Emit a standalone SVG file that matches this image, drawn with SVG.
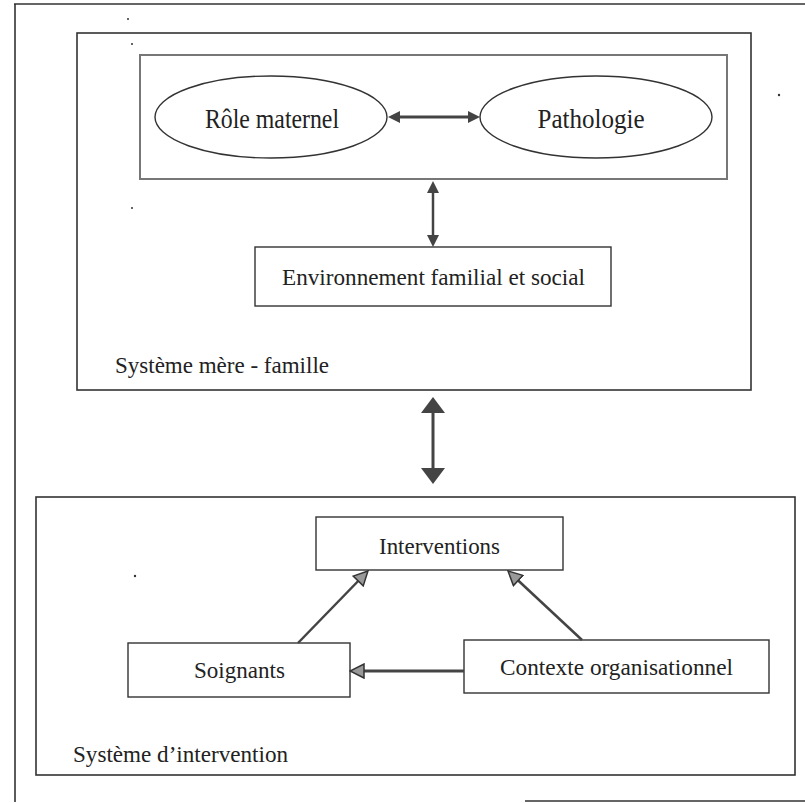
<svg xmlns="http://www.w3.org/2000/svg" width="805" height="803" viewBox="0 0 805 803">
  <style>
    .frame { fill: none; stroke: #333; stroke-width: 1.6; }
    .inner { fill: none; stroke: #777; stroke-width: 2; }
    .node { fill: #fff; stroke: #333; stroke-width: 1.4; }
    .lbl { font-family: "Liberation Serif", "Times New Roman", serif; font-size: 24px; fill: #222; }
    .big { font-size: 27px; }
    .c { text-anchor: middle; }
    .link { fill: none; stroke: #444; }
    .speck { fill: #333; }
  </style>
  <defs>
    <!-- small solid head (top part) -->
    <marker id="headS" viewBox="0 0 12 12" refX="0" refY="6" markerWidth="12" markerHeight="12" markerUnits="userSpaceOnUse" orient="auto-start-reverse">
      <path d="M0,0 L12,6 L0,12 z" fill="#444"/>
    </marker>
    <!-- large solid head (link between the two systems) -->
    <marker id="headL" viewBox="0 0 16 24" refX="0" refY="12" markerWidth="16" markerHeight="24" markerUnits="userSpaceOnUse" orient="auto-start-reverse">
      <path d="M0,0 L16,12 L0,24 z" fill="#444"/>
    </marker>
    <!-- outlined head (intervention system) -->
    <marker id="headO" viewBox="-1 -1 16 16" refX="0" refY="7" markerWidth="16" markerHeight="16" markerUnits="userSpaceOnUse" orient="auto">
      <path d="M0,0 L14,7 L0,14 z" fill="#999" stroke="#333" stroke-width="1.5"/>
    </marker>
  </defs>

  <!-- page frame -->
  <g id="page">
    <path class="frame" d="M14,4 H805 M15,4 V802 M525,801 H805"/>
  </g>

  <!-- mother-family system -->
  <g id="systeme-mere-famille">
    <rect class="frame" x="77" y="33" width="674" height="357"/>
    <text class="lbl" x="115" y="373" textLength="214" lengthAdjust="spacingAndGlyphs">Système mère - famille</text>
  </g>
  <g id="dyade">
    <rect class="inner" x="140" y="55" width="587" height="124"/>
  </g>
  <g id="role-maternel">
    <ellipse class="node" cx="271" cy="117" rx="116" ry="41"/>
    <text class="lbl big c" x="272" y="128" textLength="134" lengthAdjust="spacingAndGlyphs">Rôle maternel</text>
  </g>
  <g id="pathologie">
    <ellipse class="node" cx="596" cy="117" rx="116" ry="41"/>
    <text class="lbl big c" x="591" y="128" textLength="107" lengthAdjust="spacingAndGlyphs">Pathologie</text>
  </g>
  <g id="environnement">
    <rect class="node" x="255" y="247" width="356" height="59"/>
    <text class="lbl c" x="433.5" y="285" textLength="303" lengthAdjust="spacingAndGlyphs">Environnement familial et social</text>
  </g>

  <!-- intervention system -->
  <g id="systeme-intervention">
    <rect class="frame" x="36" y="497" width="759" height="278"/>
    <text class="lbl" x="73" y="762" textLength="215" lengthAdjust="spacingAndGlyphs">Système d’intervention</text>
  </g>
  <g id="interventions">
    <rect class="node" x="316" y="517" width="247" height="53"/>
    <text class="lbl c" x="439.5" y="554" textLength="121" lengthAdjust="spacingAndGlyphs">Interventions</text>
  </g>
  <g id="soignants">
    <rect class="node" x="128" y="643" width="222" height="54"/>
    <text class="lbl c" x="239.5" y="678" textLength="91" lengthAdjust="spacingAndGlyphs">Soignants</text>
  </g>
  <g id="contexte">
    <rect class="node" x="464" y="640" width="305" height="53"/>
    <text class="lbl c" x="616.5" y="675" textLength="233" lengthAdjust="spacingAndGlyphs">Contexte organisationnel</text>
  </g>

  <!-- connectors -->
  <g id="connectors">
    <line class="link" x1="400" y1="117" x2="468" y2="117" stroke-width="3" marker-start="url(#headS)" marker-end="url(#headS)"/>
    <line class="link" x1="433" y1="193" x2="433" y2="235" stroke="#222" stroke-width="2.5" marker-start="url(#headS)" marker-end="url(#headS)"/>
    <line class="link" x1="433" y1="413" x2="433" y2="468" stroke-width="3" marker-start="url(#headL)" marker-end="url(#headL)"/>
    <line class="link" x1="464" y1="671" x2="364" y2="671" stroke-width="3" marker-end="url(#headO)"/>
    <line class="link" x1="298" y1="643" x2="358.2" y2="581" stroke-width="2.5" marker-end="url(#headO)"/>
    <line class="link" x1="582" y1="640" x2="518.2" y2="580.5" stroke-width="2.5" marker-end="url(#headO)"/>
  </g>

  <!-- stray specks on the page -->
  <g id="specks">
    <circle class="speck" cx="128" cy="19" r="1"/>
    <circle class="speck" cx="132" cy="44" r="1"/>
    <circle class="speck" cx="779" cy="95" r="1.2"/>
    <circle class="speck" cx="132" cy="208" r="1"/>
    <circle class="speck" cx="135" cy="576" r="1.2"/>
  </g>
</svg>
